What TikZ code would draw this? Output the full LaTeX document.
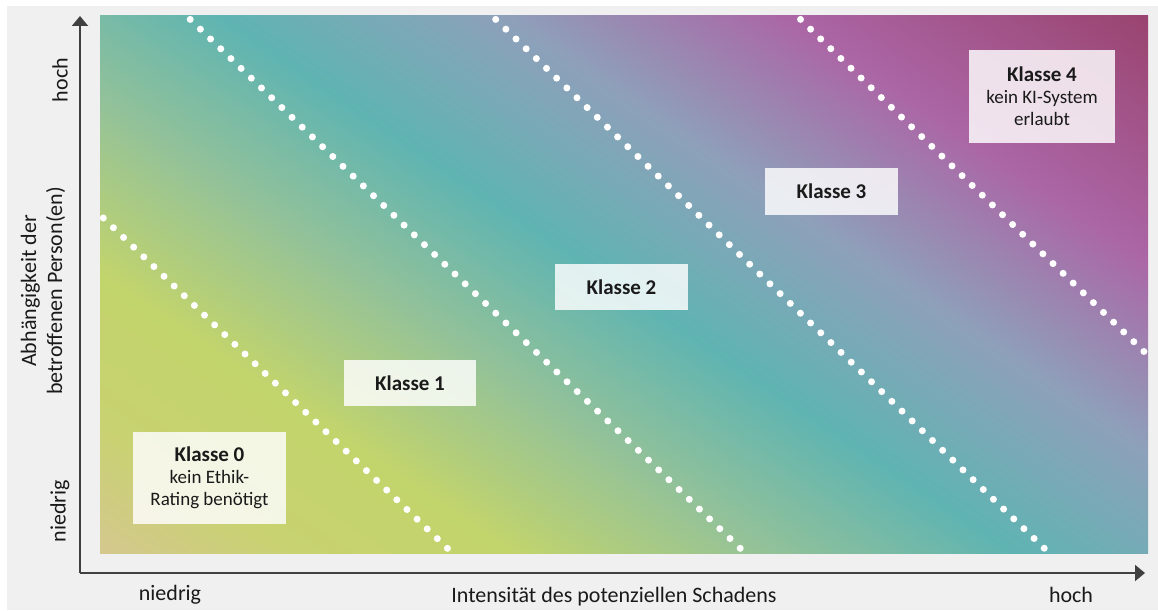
\documentclass[tikz,border=0pt]{standalone}
\usepackage{fontspec}
\setmainfont{Carlito}
\usetikzlibrary{arrows.meta}
\definecolor{bggray}{HTML}{F0F0F0}
\definecolor{axisgray}{HTML}{404040}
\definecolor{txtdark}{HTML}{1A1A1A}
\definecolor{gTan}{HTML}{D4C88E}
\definecolor{gYGa}{HTML}{C8D270}
\definecolor{gYGb}{HTML}{C2D46C}
\definecolor{gGreen}{HTML}{94C298}
\definecolor{gTeal}{HTML}{5FB4B2}
\definecolor{gBlue}{HTML}{8EA0BA}
\definecolor{gPurple}{HTML}{AB66A6}
\definecolor{gDark}{HTML}{9A4470}
\pgfdeclarehorizontalshading{riskgrad}{100bp}{color(0bp)=(gTan); color(28.54bp)=(gTan); color(33.1bp)=(gYGa); color(38.1bp)=(gYGb); color(44.0bp)=(gGreen); color(49.8bp)=(gTeal); color(56.5bp)=(gBlue); color(63.1bp)=(gPurple); color(71.5bp)=(gDark); color(100bp)=(gDark)}
\begin{document}
\begin{tikzpicture}[x=1pt,y=-1pt,
  axisline/.style={draw=axisgray, line width=2pt, -{Triangle[length=10pt,width=16pt]}},
  dotline/.style={draw=white, line width=7pt, line cap=round, dash pattern=on 0pt off #1},
  classbox/.style={fill=white, fill opacity=0.82, text opacity=1, text=txtdark, inner sep=0pt, outer sep=0pt, align=center, font=\fontsize{19}{22}\selectfont},
  axlabel/.style={text=txtdark, inner sep=0pt, font=\fontsize{22}{26}\selectfont}
]
\useasboundingbox (0,0) rectangle (1158,610);
\fill[white] (0,0) rectangle (1158,610);
\fill[bggray] (7,6) rectangle (1158,610);
% gradient field
\begin{scope}
  \clip (100,16) rectangle (1148,553);
  \shade[shading=riskgrad, shading angle=56] (24,-315.5) rectangle (1224,884.5);
\end{scope}
% dotted class borders
\coordinate (l1s) at (103.3,218);  \coordinate (l1e) at (447.6,548.5);
\coordinate (l2s) at (190.2,19.4); \coordinate (l2e) at (740.4,548.5);
\coordinate (l3s) at (495.7,19.4); \coordinate (l3e) at (1044.5,548.5);
\coordinate (l4s) at (800.5,19.4); \coordinate (l4e) at (1144,351.6);
\draw[dotline=14.03pt] (l1s) -- (l1e);
\draw[dotline=14.13pt] (l2s) -- (l2e);
\draw[dotline=14.11pt] (l3s) -- (l3e);
\draw[dotline=14.05pt] (l4s) -- (l4e);
% class boxes
\node[classbox, minimum width=153pt, minimum height=92pt] (k0) at (209.5,478)
  {{\fontsize{21}{27}\bfseries\selectfont Klasse 0}\\kein Ethik-\\Rating benötigt};
\node[classbox, minimum width=132pt, minimum height=46pt] (k1) at (410,383)
  {\fontsize{21}{25}\bfseries\selectfont Klasse 1};
\node[classbox, minimum width=133pt, minimum height=46pt] (k2) at (621.5,287)
  {\fontsize{21}{25}\bfseries\selectfont Klasse 2};
\node[classbox, minimum width=133pt, minimum height=47pt] (k3) at (831.5,191.5)
  {\fontsize{21}{25}\bfseries\selectfont Klasse 3};
\node[classbox, minimum width=146pt, minimum height=93pt] (k4) at (1042,96.5)
  {{\fontsize{21}{27}\bfseries\selectfont Klasse 4}\\kein KI-System\\erlaubt};
% axes
\coordinate (orig) at (80,573);
\coordinate (ytip) at (80,16);
\coordinate (xtip) at (1145,573);
\draw[axisline] (orig) -- (ytip);
\draw[axisline] (orig) -- (xtip);
% axis labels
\node[axlabel, rotate=90] (yhi) at (60,80) {hoch};
\node[axlabel, rotate=90] (ylo) at (60,511) {niedrig};
\node[axlabel, rotate=90, align=center] (ytitle) at (43,291) {Abhängigkeit der\\betroffenen Person(en)};
\node[axlabel] (xlo) at (170,595) {niedrig};
\node[axlabel] (xtitle) at (614,597) {Intensität des potenziellen Schadens};
\node[axlabel] (xhi) at (1071,595) {hoch};
\end{tikzpicture}
\end{document}
